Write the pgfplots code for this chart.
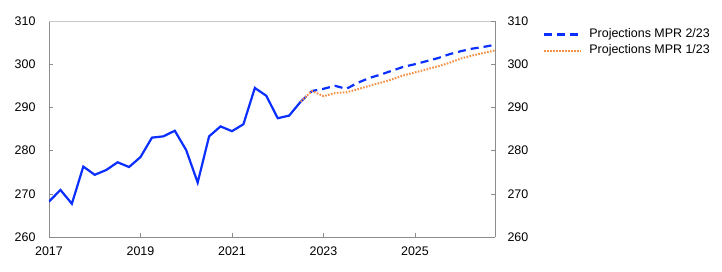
\documentclass[border=0pt]{standalone}
\usepackage{pgfplots}
\pgfplotsset{compat=1.18}
\usepackage{fontspec}
\setmainfont{Liberation Sans}
\definecolor{nbblue}{RGB}{10,47,255}
\definecolor{nborange}{RGB}{245,145,70}
\definecolor{spine}{RGB}{140,140,140}
\definecolor{topspine}{RGB}{200,200,200}
\begin{document}
\begin{tikzpicture}
\useasboundingbox (-49bp,-35bp) rectangle (673bp,237bp);
\pgfplotsset{
  common/.style={
    at={(0,0)}, anchor=south west,
    scale only axis, width=446bp, height=216bp,
    xmin=2017, xmax=2026.75, ymin=260, ymax=310,
    ytick={260,270,...,310},
    tick align=inside, major tick length=4bp,
    every tick/.style={spine, line width=0.6bp},
    axis line style={spine, line width=0.8bp},
    font=\fontsize{12.5}{15}\selectfont,
    /pgf/number format/assume math mode=true,
    /pgf/number format/1000 sep={},
  }
}
\begin{axis}[common,
  axis x line*=bottom, axis y line*=left,
  xtick={2017,2019,2021,2023,2025},
  xticklabel style={yshift=-6bp},
  yticklabel style={xshift=-10bp},
  extra y ticks={310}, extra y tick labels={},
  extra y tick style={grid=major, major grid style={topspine, line width=0.8bp}, major tick length=0pt},
  legend style={at={(rel axis cs:1.1076,0.966)}, anchor=north west, draw=none, fill=none,
    inner sep=0pt, row sep=4bp, column sep=7bp,
    nodes={inner sep=0pt, anchor=west, text height=9bp, text depth=3bp},
    font=\fontsize{12.5}{15}\selectfont},
  legend cell align=left,
  legend image code/.code={\draw[#1] (0bp,0bp) -- (37bp,0bp);},
]
\addplot[nbblue, line width=2.2bp, dash pattern=on 8bp off 5bp] coordinates {
(2022.5,291.3) (2022.75,293.8) (2023.0,294.3) (2023.25,295.0) (2023.5,294.3)
(2023.75,295.7) (2024.0,296.8) (2024.25,297.6) (2024.5,298.5) (2024.75,299.4)
(2025.0,300.0) (2025.25,300.7) (2025.5,301.4) (2025.75,302.3) (2026.0,303.0)
(2026.25,303.6) (2026.5,304.0) (2026.75,304.5)
};
\addlegendentry{Projections MPR 2/23}
\addplot[nborange, line width=2bp, dash pattern=on 1.6bp off 1.4bp] coordinates {
(2022.5,291.3) (2022.75,293.8) (2023.0,292.6) (2023.25,293.3) (2023.5,293.5)
(2023.75,294.2) (2024.0,295.0) (2024.25,295.7) (2024.5,296.5) (2024.75,297.4)
(2025.0,298.1) (2025.25,298.8) (2025.5,299.5) (2025.75,300.3) (2026.0,301.3)
(2026.25,302.0) (2026.5,302.6) (2026.75,303.2)
};
\addlegendentry{Projections MPR 1/23}
\addplot[nbblue, line width=2.2bp, forget plot] coordinates {
(2017.0,268.2) (2017.25,270.9) (2017.5,267.7) (2017.75,276.3) (2018.0,274.4)
(2018.25,275.5) (2018.5,277.3) (2018.75,276.2) (2019.0,278.5) (2019.25,283.0)
(2019.5,283.3) (2019.75,284.6) (2020.0,280.1) (2020.25,272.6) (2020.5,283.3)
(2020.75,285.6) (2021.0,284.5) (2021.25,286.1) (2021.5,294.5) (2021.75,292.7)
(2022.0,287.5) (2022.25,288.1) (2022.5,291.3)
};
\end{axis}
\begin{axis}[common,
  axis x line=none, axis y line*=right,
  yticklabel style={xshift=9bp},
]
\end{axis}
\end{tikzpicture}
\end{document}
